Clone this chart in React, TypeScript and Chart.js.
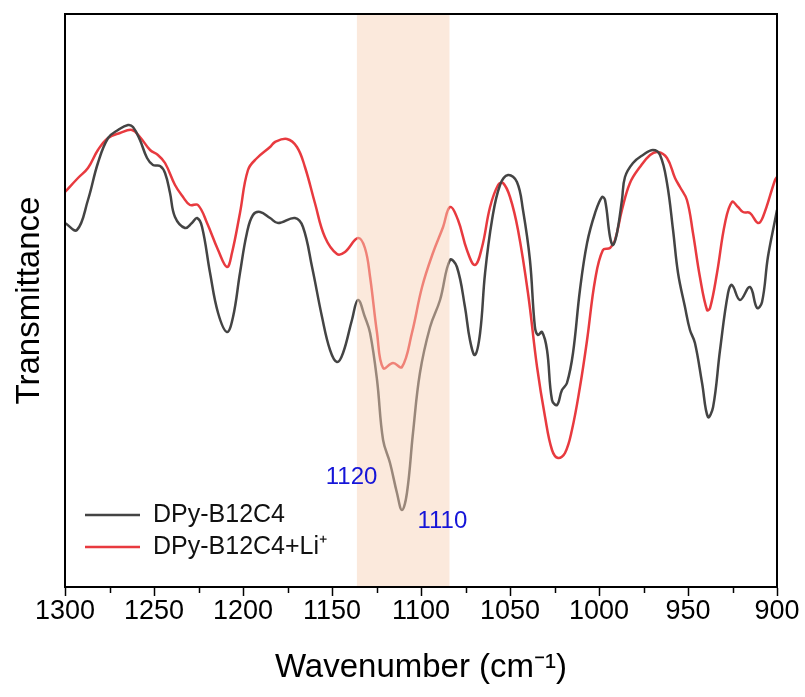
import React, { useEffect, useRef } from "react";
import { Chart, registerables } from "chart.js";

Chart.register(...registerables);

// DPy-B12C4 (black)
const wavenumbersA = [
  1300, 1293.3, 1287.1, 1281.5, 1275.8, 1270.2, 1264.6, 1261.8, 1257.9, 1253.9,
  1250.6, 1246.6, 1243.8, 1241.0, 1238.2, 1232.6, 1228.7, 1225.8, 1223.0, 1218.5,
  1214.0, 1209.0, 1205.6, 1201.7, 1197.8, 1194.4, 1190.4, 1184.8, 1180.3, 1170.8,
  1166.3, 1161.2, 1155.6, 1151.1, 1147.2, 1143.8, 1138.8, 1135.4, 1131.5, 1128.6,
  1124.7, 1121.3, 1117.4, 1113.5, 1110.7, 1107.9, 1104.5, 1100.6, 1094.9, 1089.3,
  1083.7, 1079.8, 1075.3, 1072.5, 1069.7, 1066.8, 1064.0, 1060.1, 1055.6, 1051.1,
  1046.1, 1042.7, 1038.8, 1036.0, 1034.3, 1032.0, 1029.2, 1026.4, 1023.6, 1020.8,
  1018.0, 1014.6, 1010.7, 1006.7, 1002.2, 998.3, 996.6, 993.8, 992.1, 989.9,
  987.1, 985.4, 980.9, 975.3, 969.7, 965.7, 961.8, 958.4, 955.6, 951.7,
  948.9, 946.1, 942.1, 938.8, 935.9, 932.0, 927.5, 925.3, 920.8, 915.2,
  911.2, 908.4, 905.1, 901.1, 900,
];
const transmittanceA = [
  364, 357, 387, 424, 449, 457, 462, 460, 447, 429,
  422, 421, 414, 394, 370, 359, 364, 369, 360, 314,
  274, 255, 270, 314, 354, 372, 375, 369, 364, 369,
  360, 320, 270, 237, 225, 234, 267, 287, 270, 254,
  207, 147, 124, 94, 77, 94, 154, 214, 260, 287,
  327, 320, 280, 247, 232, 254, 314, 367, 402, 412,
  405, 377, 327, 260, 252, 255, 237, 187, 182, 197,
  204, 234, 297, 344, 374, 390, 387, 350, 342, 354,
  387, 410, 424, 432, 437, 432, 404, 357, 314, 280,
  257, 244, 204, 170, 180, 237, 294, 302, 287, 300,
  279, 285, 330, 367, 377,
];

// DPy-B12C4+Li+ (red)
const wavenumbersB = [
  1300, 1292.7, 1287.1, 1281.5, 1275.8, 1269.1, 1262.4, 1257.9, 1252.2, 1247.8,
  1243.8, 1238.2, 1233.7, 1229.8, 1225.3, 1220.2, 1214.0, 1209.0, 1206.2, 1201.7,
  1197.2, 1192.1, 1184.8, 1182.0, 1175.3, 1169.7, 1165.2, 1159.6, 1154.0, 1147.2,
  1142.7, 1135.4, 1131.5, 1128.6, 1124.7, 1121.3, 1115.7, 1110.7, 1105.1, 1099.4,
  1093.3, 1087.6, 1083.7, 1079.2, 1074.2, 1069.7, 1065.7, 1061.2, 1056.7, 1053.9,
  1050.0, 1045.5, 1039.9, 1034.8, 1030.3, 1026.4, 1023.0, 1019.1, 1015.2, 1010.7,
  1006.7, 1002.2, 997.8, 993.8, 991.0, 987.1, 982.6, 977.0, 971.3, 966.9,
  961.8, 957.3, 954.5, 950.6, 947.2, 943.3, 939.3, 937.6, 933.7, 929.2,
  925.3, 921.9, 919.1, 915.2, 910.7, 907.9, 901.1, 900,
];
const transmittanceB = [
  395, 409, 419, 437, 449, 454, 457, 450, 437, 432,
  424, 402, 390, 382, 382, 364, 337, 320, 334, 374,
  417, 429, 440, 445, 448, 440, 420, 384, 350, 333,
  335, 349, 339, 310, 254, 219, 224, 220, 254, 300,
  334, 360, 380, 367, 337, 322, 340, 380, 402, 404,
  390, 357, 294, 220, 170, 137, 129, 134, 157, 200,
  247, 307, 337, 339, 347, 377, 404, 420, 432, 435,
  429, 409, 400, 387, 354, 310, 277, 279, 314, 364,
  385, 380, 375, 374, 364, 370, 407, 410,
];

const seriesLabels = ["DPy-B12C4", "DPy-B12C4+Li\u207A"];
const xTicks = [1300, 1250, 1200, 1150, 1100, 1050, 1000, 950, 900];
const xMinorTicks = [1275, 1225, 1175, 1125, 1075, 1025, 975, 925];
const bandRange = [1136, 1084];
const annotationLabels = ["1120", "1110"];
const annotationX = [1139, 1088];
const annotationY = [110, 66];

const FONT = "'Liberation Sans', Arial, Helvetica, sans-serif";

export default function App() {
  const ref = useRef<HTMLCanvasElement | null>(null);

  useEffect(() => {
    if (!ref.current) return;
    document.body.style.margin = "0";

    const overlayPlugin = {
      id: "overlay",
      afterDatasetsDraw(chart: any) {
        const { ctx, chartArea, scales } = chart;
        const x = scales.x;
        const y = scales.y;
        const x1 = x.getPixelForValue(bandRange[0]);
        const x2 = x.getPixelForValue(bandRange[1]);
        ctx.save();
        ctx.fillStyle = "rgba(247, 209, 182, 0.48)";
        ctx.fillRect(Math.min(x1, x2), chartArea.top, Math.abs(x2 - x1), chartArea.bottom - chartArea.top);
        ctx.restore();

        // annotations
        ctx.save();
        ctx.fillStyle = "#1515d8";
        ctx.font = `24px ${FONT}`;
        ctx.textAlign = "center";
        ctx.textBaseline = "middle";
        annotationLabels.forEach((t, i) => {
          ctx.fillText(t, x.getPixelForValue(annotationX[i]), y.getPixelForValue(annotationY[i]));
        });
        ctx.restore();
      },
      afterDraw(chart: any) {
        const { ctx, chartArea, scales } = chart;
        const x = scales.x;
        ctx.save();
        ctx.strokeStyle = "#000";
        ctx.lineWidth = 2;
        ctx.strokeRect(chartArea.left, chartArea.top, chartArea.right - chartArea.left, chartArea.bottom - chartArea.top);
        ctx.lineWidth = 1.5;
        xMinorTicks.forEach((v) => {
          const px = Math.round(x.getPixelForValue(v)) + 0.5;
          ctx.beginPath();
          ctx.moveTo(px, chartArea.bottom);
          ctx.lineTo(px, chartArea.bottom + 6);
          ctx.stroke();
        });
        ctx.restore();

        // legend
        ctx.save();
        ctx.font = `25px ${FONT}`;
        ctx.textBaseline = "middle";
        ctx.textAlign = "left";
        const rows = [chartArea.bottom - 72, chartArea.bottom - 40];
        chart.data.datasets.forEach((ds: any, i: number) => {
          const yy = rows[i];
          ctx.strokeStyle = ds.borderColor;
          ctx.lineWidth = 2.5;
          ctx.beginPath();
          ctx.moveTo(chartArea.left + 20, yy);
          ctx.lineTo(chartArea.left + 75, yy);
          ctx.stroke();
          ctx.fillStyle = "#111";
          ctx.fillText(ds.label, chartArea.left + 88, yy);
        });
        ctx.restore();
      },
    };

    const chart = new Chart(ref.current, {
      type: "line",
      data: {
        datasets: [
          {
            label: seriesLabels[0],
            data: wavenumbersA.map((w, i) => ({ x: w, y: transmittanceA[i] })),
            borderColor: "#444444",
            borderWidth: 2.5,
            pointRadius: 0,
            tension: 0.4,
            fill: false,
          },
          {
            label: seriesLabels[1],
            data: wavenumbersB.map((w, i) => ({ x: w, y: transmittanceB[i] })),
            borderColor: "#e83a3f",
            borderWidth: 2.5,
            pointRadius: 0,
            tension: 0.4,
            fill: false,
          },
        ],
      },
      options: {
        responsive: false,
        animation: false,
        layout: { padding: { left: 0, right: 28, top: 14, bottom: 0 } },
        plugins: {
          legend: { display: false },
          tooltip: { enabled: false },
        },
        scales: {
          x: {
            type: "linear",
            reverse: true,
            min: 900,
            max: 1300,
            afterBuildTicks: (scale: any) => {
              scale.ticks = xTicks.map((v) => ({ value: v }));
            },
            afterFit: (scale: any) => {
              scale.height = 110;
              scale.paddingLeft = 0;
              scale.paddingRight = 0;
            },
            ticks: {
              color: "#000",
              font: { family: FONT, size: 27, lineHeight: 1 },
              padding: 2,
              maxRotation: 0,
              autoSkip: false,
              callback: (v: any) => String(v),
            },
            grid: {
              display: true,
              drawOnChartArea: false,
              drawTicks: true,
              tickLength: 9,
              tickColor: "#000",
              tickWidth: 1.5,
              color: "#000",
            },
            border: { display: true, color: "#000", width: 2 },
            title: {
              display: true,
              text: "Wavenumber (cm\u207B\u00B9)",
              color: "#000",
              font: { family: FONT, size: 33 },
              padding: { top: 0, bottom: 9 },
            },
          },
          y: {
            min: 0,
            max: 573,
            afterFit: (scale: any) => {
              scale.width = 65;
            },
            ticks: { display: false },
            grid: { display: false },
            border: { display: false },
            title: {
              display: true,
              text: "Transmittance",
              color: "#000",
              font: { family: FONT, size: 33 },
              padding: { top: 10, bottom: 0 },
            },
          },
        },
      },
      plugins: [overlayPlugin],
    } as any);

    return () => chart.destroy();
  }, []);

  return <canvas ref={ref} width={805} height={697} style={{ display: "block" }} />;
}
